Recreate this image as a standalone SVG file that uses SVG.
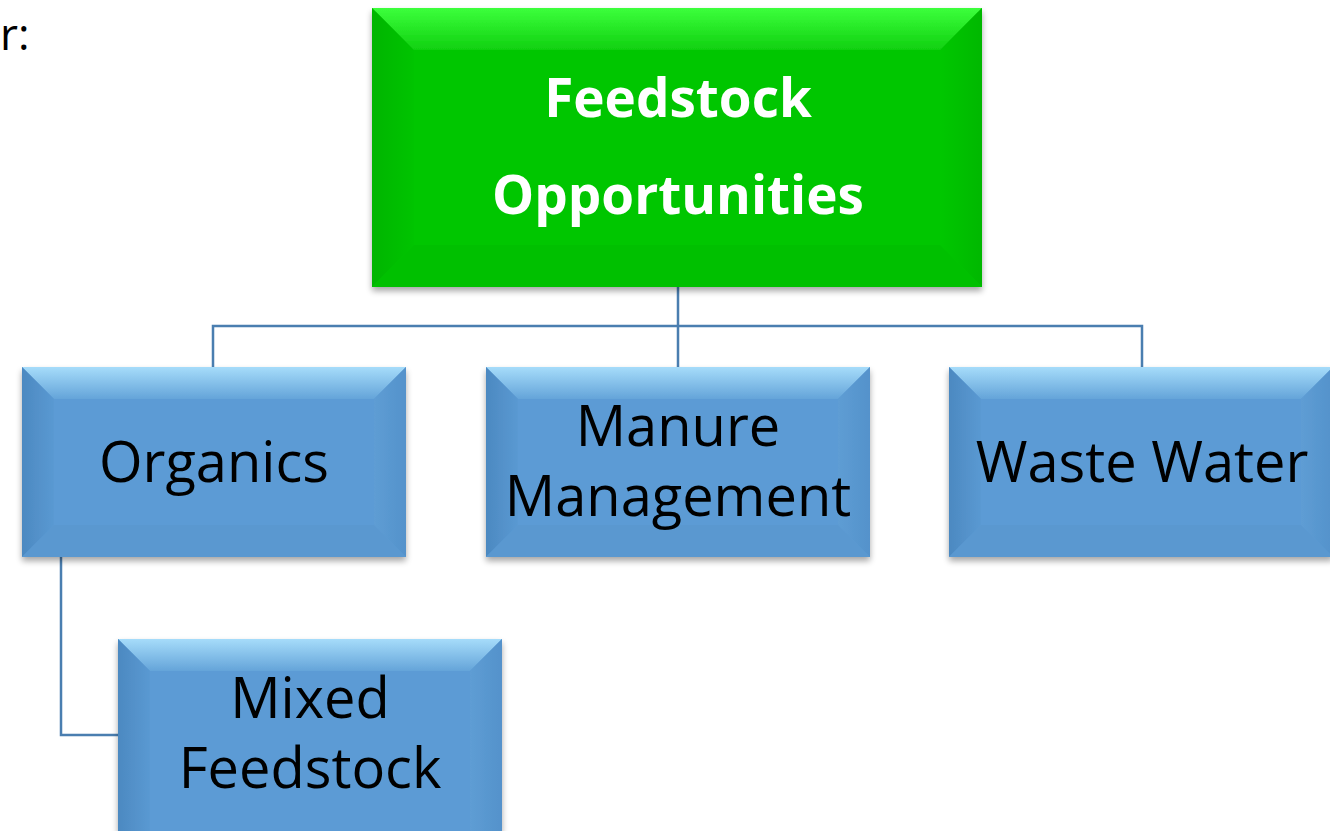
<svg xmlns="http://www.w3.org/2000/svg" width="1330" height="831" viewBox="0 0 1330 831">
<defs>
<filter id="sh" x="-5%" y="-5%" width="110%" height="115%"><feGaussianBlur in="SourceAlpha" stdDeviation="3"/><feOffset dx="0" dy="4"/><feComponentTransfer><feFuncA type="linear" slope="0.35"/></feComponentTransfer><feMerge><feMergeNode/><feMergeNode in="SourceGraphic"/></feMerge></filter>
<linearGradient id="btop" x1="0" y1="0" x2="0" y2="1"><stop offset="0" stop-color="#a6dcfa"/><stop offset="1" stop-color="#64a4d9"/></linearGradient>
<linearGradient id="bleft" x1="0" y1="0" x2="1" y2="0"><stop offset="0" stop-color="#4c89c1"/><stop offset="1" stop-color="#5a99d2"/></linearGradient>
<linearGradient id="bright" x1="0" y1="0" x2="1" y2="0"><stop offset="0" stop-color="#5e9dd4"/><stop offset="1" stop-color="#5492cb"/></linearGradient>
<linearGradient id="gtop" x1="0" y1="0" x2="0" y2="1"><stop offset="0" stop-color="#3cff3c"/><stop offset="1" stop-color="#10d010"/></linearGradient>
<linearGradient id="gleft" x1="0" y1="0" x2="1" y2="0"><stop offset="0" stop-color="#06b506"/><stop offset="1" stop-color="#04c404"/></linearGradient>
<linearGradient id="gright" x1="0" y1="0" x2="1" y2="0"><stop offset="0" stop-color="#06c706"/><stop offset="1" stop-color="#05b805"/></linearGradient>
</defs>
<style>
.conn{fill:none;stroke:#4a7eb0;stroke-width:2.5}
.bt{font-family:"Open Sans","Liberation Sans",sans-serif;font-size:56px;fill:#000;text-anchor:middle}
.gt{font-family:"Open Sans","Liberation Sans",sans-serif;font-size:53px;font-weight:bold;fill:#fff;text-anchor:middle}
.bbase{fill:#5b9bd5}
.gbase{fill:#03c603}
</style>
<text x="0" y="50" font-family="Open Sans, Liberation Sans, sans-serif" font-size="44" fill="#000">r:</text>
<g id="connectors">
<path class="conn" d="M678 287 V326 M213 367 V326 H1142 V367 M678 326 V367"/>
<path class="conn" d="M61 557 V735 H118"/>
</g>
<g id="root" filter="url(#sh)">
<rect class="gbase" x="372" y="8" width="610" height="279"/>
<polygon points="372,8 982,8 940,50 414,50" fill="url(#gtop)"/>
<polygon points="372,8 414,50 414,245 372,287" fill="url(#gleft)"/>
<polygon points="982,8 940,50 940,245 982,287" fill="url(#gright)"/>
<polygon points="372,287 414,245 940,245 982,287" fill="#05c005"/>
<text class="gt" x="678" y="117">Feedstock</text>
<text class="gt" x="678" y="214">Opportunities</text>
</g>
<g id="organics" filter="url(#sh)">
<rect class="bbase" x="22" y="367" width="384" height="190"/>
<polygon points="22,367 406,367 374,399 54,399" fill="url(#btop)"/>
<polygon points="22,367 54,399 54,525 22,557" fill="url(#bleft)"/>
<polygon points="406,367 374,399 374,525 406,557" fill="url(#bright)"/>
<polygon points="22,557 54,525 374,525 406,557" fill="#5a98d0"/>
<text class="bt" x="214" y="482">Organics</text>
</g>
<g id="manure" filter="url(#sh)">
<rect class="bbase" x="486" y="367" width="384" height="190"/>
<polygon points="486,367 870,367 838,399 518,399" fill="url(#btop)"/>
<polygon points="486,367 518,399 518,525 486,557" fill="url(#bleft)"/>
<polygon points="870,367 838,399 838,525 870,557" fill="url(#bright)"/>
<polygon points="486,557 518,525 838,525 870,557" fill="#5a98d0"/>
<text class="bt" x="678" y="446">Manure</text>
<text class="bt" x="678" y="516">Management</text>
</g>
<g id="wastewater" filter="url(#sh)">
<rect class="bbase" x="949" y="367" width="384" height="190"/>
<polygon points="949,367 1333,367 1301,399 981,399" fill="url(#btop)"/>
<polygon points="949,367 981,399 981,525 949,557" fill="url(#bleft)"/>
<polygon points="1333,367 1301,399 1301,525 1333,557" fill="url(#bright)"/>
<polygon points="949,557 981,525 1301,525 1333,557" fill="#5a98d0"/>
<text class="bt" x="1142" y="482">Waste Water</text>
</g>
<g id="mixed" filter="url(#sh)">
<rect class="bbase" x="118" y="639" width="384" height="192"/>
<polygon points="118,639 502,639 470,671 150,671" fill="url(#btop)"/>
<polygon points="118,639 150,671 150,831 118,831" fill="url(#bleft)"/>
<polygon points="502,639 470,671 470,831 502,831" fill="url(#bright)"/>
<text class="bt" x="310" y="718">Mixed</text>
<text class="bt" x="310" y="788">Feedstock</text>
</g>
</svg>
